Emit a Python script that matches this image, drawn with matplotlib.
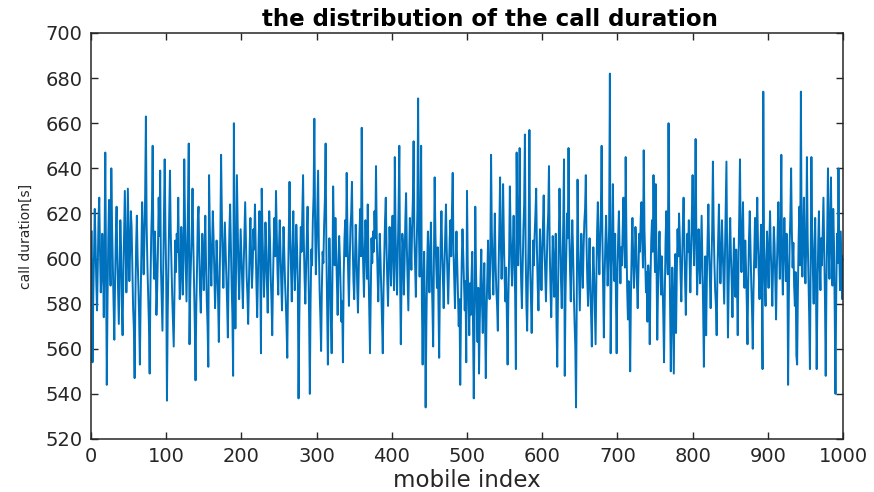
import numpy as np
import matplotlib
matplotlib.use('Agg')
import matplotlib.pyplot as plt

# call duration of each mobile (25 values per row)
call_duration = [
    612, 554, 583, 601, 622, 608, 590, 577, 596, 618, 627, 603, 585, 592, 611, 598, 574, 606, 647, 593, 544, 582, 609, 626, 604,
    588, 640, 615, 597, 580, 564, 589, 610, 623, 601, 586, 571, 594, 617, 605, 579, 566, 592, 612, 630, 607, 585, 598, 631, 609,
    590, 603, 621, 614, 596, 578, 569, 547, 582, 606, 619, 600, 588, 574, 553, 581, 604, 625, 611, 593, 607, 628, 663, 615, 597,
    583, 571, 549, 586, 609, 622, 650, 604, 591, 612, 598, 575, 586, 603, 627, 610, 639, 596, 581, 568, 594, 618, 644, 613, 592,
    537, 575, 598, 619, 639, 612, 597, 583, 572, 561, 586, 608, 594, 611, 603, 627, 601, 582, 590, 614, 606, 584, 599, 644, 616,
    598, 581, 603, 624, 651, 562, 587, 599, 612, 631, 608, 589, 571, 546, 578, 596, 617, 623, 602, 585, 576, 593, 611, 601, 586,
    604, 619, 597, 581, 570, 552, 637, 614, 599, 588, 605, 621, 609, 594, 578, 591, 608, 597, 582, 563, 589, 611, 646, 620, 601,
    587, 602, 616, 604, 591, 580, 565, 593, 612, 624, 606, 588, 575, 548, 660, 603, 569, 598, 637, 615, 596, 582, 597, 613, 602,
    590, 578, 596, 611, 625, 609, 592, 584, 571, 589, 606, 618, 600, 587, 596, 613, 604, 624, 605, 588, 574, 593, 610, 621, 598,
    558, 631, 612, 597, 583, 595, 616, 604, 588, 576, 599, 621, 609, 592, 581, 566, 590, 607, 618, 601, 630, 611, 594, 584, 605,
    617, 602, 589, 577, 595, 614, 603, 590, 581, 570, 556, 588, 612, 634, 609, 594, 581, 603, 621, 600, 586, 597, 615, 605, 589,
    538, 573, 598, 614, 603, 619, 637, 608, 591, 580, 596, 610, 623, 599, 575, 540, 581, 604, 597, 617, 628, 662, 615, 593, 606,
    622, 639, 605, 586, 574, 559, 587, 603, 598, 615, 626, 651, 604, 580, 553, 584, 609, 596, 573, 558, 590, 632, 611, 597, 618,
    603, 589, 575, 596, 610, 600, 585, 572, 581, 554, 592, 608, 617, 601, 638, 612, 593, 579, 598, 614, 620, 634, 607, 590, 582,
    599, 615, 604, 588, 576, 593, 611, 622, 601, 658, 613, 596, 583, 602, 617, 606, 591, 624, 597, 578, 558, 585, 609, 598, 612,
    603, 621, 609, 641, 610, 594, 581, 597, 611, 600, 585, 572, 558, 586, 601, 617, 627, 605, 590, 579, 596, 614, 603, 588, 608,
    619, 601, 586, 645, 612, 596, 584, 603, 622, 650, 593, 562, 590, 611, 606, 584, 598, 617, 629, 605, 591, 577, 600, 618, 609,
    595, 613, 626, 652, 610, 597, 583, 604, 621, 671, 614, 592, 609, 650, 581, 553, 587, 603, 578, 534, 571, 596, 612, 600, 585,
    602, 616, 594, 579, 561, 597, 636, 611, 598, 587, 605, 582, 556, 589, 607, 621, 603, 590, 578, 596, 611, 624, 605, 593, 580,
    594, 609, 617, 601, 622, 638, 604, 591, 578, 598, 612, 597, 584, 570, 582, 544, 576, 599, 613, 602, 589, 577, 590, 554, 630,
    597, 581, 566, 589, 575, 592, 603, 571, 538, 570, 623, 594, 578, 563, 587, 549, 572, 591, 604, 580, 567, 585, 598, 574, 547,
    576, 593, 608, 590, 582, 601, 646, 612, 596, 584, 603, 620, 598, 586, 579, 568, 595, 614, 636, 607, 591, 604, 633, 610, 592,
    581, 596, 575, 553, 582, 601, 632, 612, 597, 588, 606, 619, 600, 584, 551, 647, 612, 597, 620, 649, 607, 590, 578, 596, 613,
    624, 655, 603, 579, 568, 591, 610, 657, 596, 583, 567, 589, 608, 597, 611, 620, 631, 604, 588, 577, 595, 613, 602, 586, 599,
    615, 628, 606, 593, 581, 597, 612, 620, 641, 604, 587, 574, 592, 610, 599, 583, 596, 611, 571, 552, 584, 607, 631, 612, 590,
    578, 597, 616, 644, 548, 583, 602, 620, 609, 649, 612, 595, 581, 602, 617, 604, 586, 572, 561, 534, 588, 635, 607, 591, 577,
    594, 611, 600, 587, 604, 616, 622, 637, 606, 590, 579, 596, 609, 587, 575, 561, 588, 605, 593, 578, 562, 590, 612, 625, 604,
    593, 608, 621, 650, 611, 587, 565, 592, 607, 619, 603, 588, 599, 614, 682, 558, 588, 607, 633, 602, 590, 611, 583, 558, 592,
    609, 621, 603, 589, 605, 597, 612, 627, 608, 596, 645, 610, 586, 573, 590, 578, 550, 584, 605, 618, 600, 587, 597, 614, 606,
    589, 578, 595, 611, 603, 618, 625, 609, 596, 648, 613, 598, 585, 594, 572, 597, 589, 562, 591, 608, 617, 603, 637, 610, 594,
    633, 598, 564, 586, 603, 612, 597, 584, 601, 590, 575, 554, 583, 607, 621, 604, 593, 660, 611, 580, 550, 578, 596, 571, 549,
    588, 602, 567, 594, 613, 601, 620, 609, 592, 581, 598, 614, 627, 608, 590, 575, 596, 611, 603, 617, 599, 585, 603, 619, 637,
    611, 597, 618, 653, 609, 584, 596, 613, 602, 589, 604, 619, 598, 578, 552, 586, 601, 566, 592, 610, 624, 603, 590, 578, 597,
    612, 643, 615, 598, 586, 579, 566, 594, 610, 624, 603, 589, 600, 617, 605, 592, 580, 602, 621, 643, 599, 565, 588, 606, 618,
    601, 589, 574, 593, 609, 597, 583, 604, 590, 566, 598, 619, 644, 607, 594, 612, 625, 601, 587, 608, 596, 581, 562, 590, 609,
    621, 605, 589, 577, 560, 586, 603, 618, 596, 611, 627, 606, 593, 582, 601, 615, 589, 551, 674, 606, 590, 579, 598, 612, 601,
    587, 606, 621, 603, 592, 579, 597, 614, 606, 589, 573, 595, 611, 625, 604, 591, 616, 646, 598, 584, 603, 618, 606, 590, 611,
    597, 544, 583, 606, 619, 640, 612, 596, 607, 588, 579, 594, 557, 553, 585, 609, 623, 597, 674, 608, 592, 611, 627, 603, 589,
    604, 645, 610, 593, 575, 551, 597, 645, 612, 594, 580, 603, 618, 590, 551, 583, 606, 621, 598, 586, 609, 597, 613, 627, 604,
    582, 548, 589, 612, 640, 605, 591, 617, 636, 603, 588, 622, 607, 576, 540, 584, 611, 598, 640, 604, 586, 612, 597, 582, 601,
]
mobile_index = np.arange(1, len(call_duration) + 1)

x_ticks = np.arange(0, 1001, 100)
y_ticks = np.arange(520, 701, 20)

plt.rcParams['font.family'] = ['DejaVu Sans']

fig = plt.figure(figsize=(8.74, 4.92), dpi=100)
ax = fig.add_axes([91 / 874, 1 - 439 / 492, 752 / 874, 406 / 492])

ax.plot(mobile_index, call_duration, color='#0072BD', linewidth=1.4)

ax.set_xlim(0, 1000)
ax.set_ylim(520, 700)
ax.set_xticks(x_ticks)
ax.set_yticks(y_ticks)
ax.tick_params(direction='in', length=5, width=1.0, top=True, right=True,
               labelsize=14, colors='#262626', pad=6)
for s in ax.spines.values():
    s.set_linewidth(1.1)
    s.set_color('#262626')

ax.set_title('the distribution of the call duration', fontsize=16.5,
             fontweight='bold', x=0.53, pad=5)
ax.set_xlabel('mobile index', fontsize=16.5, labelpad=2, color='#262626')
ax.set_ylabel('call duration[s]', fontsize=10, labelpad=9, color='#262626')

fig.savefig('out.png', dpi=100)
